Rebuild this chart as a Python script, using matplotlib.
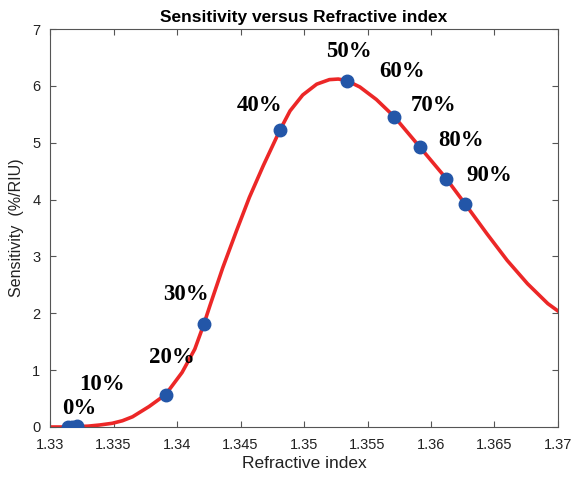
import matplotlib
matplotlib.use('Agg')
import matplotlib.pyplot as plt

# fitted sensitivity curve
curve_n = [1.3300, 1.3310, 1.3320, 1.3330, 1.3339, 1.3349, 1.3357, 1.3365,
           1.3378, 1.3391, 1.3404, 1.3414, 1.3421, 1.3426, 1.3436, 1.3447,
           1.3457, 1.3468, 1.3481, 1.3489, 1.3499, 1.3510, 1.3520, 1.3527,
           1.3534, 1.3544, 1.3557, 1.3571, 1.3591, 1.3612, 1.3627, 1.3644,
           1.3660, 1.3676, 1.3692, 1.3700]
curve_s = [0.00, 0.00, 0.005, 0.015, 0.035, 0.065, 0.11, 0.18,
           0.36, 0.57, 0.96, 1.37, 1.80, 2.14, 2.80, 3.46,
           4.04, 4.60, 5.22, 5.56, 5.84, 6.03, 6.11, 6.12,
           6.09, 5.98, 5.76, 5.46, 4.93, 4.37, 3.92, 3.40,
           2.93, 2.52, 2.17, 2.04]

# measured points
point_n = [1.3314, 1.3317, 1.3321, 1.3391, 1.3421, 1.3481, 1.3534, 1.3571, 1.3591, 1.3612, 1.3627]
point_s = [0.00, 0.00, 0.01, 0.56, 1.82, 5.22, 6.09, 5.46, 4.93, 4.37, 3.92]

# concentration labels
conc_labels = ['0%', '10%', '20%', '30%', '40%', '50%', '60%', '70%', '80%', '90%']
label_n = [1.3323, 1.3341, 1.3396, 1.3407, 1.3465, 1.3535, 1.3577, 1.3602, 1.3624, 1.3646]
label_s = [0.33, 0.74, 1.23, 2.33, 5.65, 6.61, 6.26, 5.65, 5.04, 4.42]

plt.rcParams['font.family'] = ['Liberation Sans', 'DejaVu Sans']

fig = plt.figure(figsize=(5.73, 4.78), dpi=100)
ax = fig.add_axes([0.0873, 0.1067, 0.8865, 0.8326])

ax.plot(curve_n, curve_s, color='#ec2727', linewidth=2.6, solid_joinstyle='round', zorder=2)
ax.plot(point_n, point_s, linestyle='none', marker='o', markersize=9,
        color='#2356a8', markeredgecolor='#2356a8', zorder=3)

for lab, x, y in zip(conc_labels, label_n, label_s):
    ax.text(x, y, lab, family=['Liberation Serif', 'DejaVu Serif'], fontweight='bold',
            fontsize=16.5, ha='center', va='center', color='black')

ax.set_xlim(1.33, 1.37)
ax.set_ylim(0, 7)
ax.set_xticks([1.33, 1.335, 1.34, 1.345, 1.35, 1.355, 1.36, 1.365, 1.37])
ax.set_xticklabels(['1.33', '1.335', '1.34', '1.345', '1.35', '1.355', '1.36', '1.365', '1.37'])
ax.set_yticks(range(0, 8))

for sp in ax.spines.values():
    sp.set_color('#555555')
    sp.set_linewidth(0.8)
ax.tick_params(direction='in', length=4, width=0.8, color='#555555',
               labelsize=10.5, labelcolor='#222222', top=True, right=True)
ax.tick_params(axis='x', pad=8)
ax.tick_params(axis='y', pad=7)

ax.set_xlabel('Refractive index', fontsize=12.5, color='#222222', labelpad=3)
ax.set_ylabel('Sensitivity  (%/RIU)', fontsize=11.5, color='#222222', labelpad=6)
ax.set_title('Sensitivity versus Refractive index', fontsize=12.5, fontweight='bold', pad=5)

fig.savefig('out.png', dpi=100)
